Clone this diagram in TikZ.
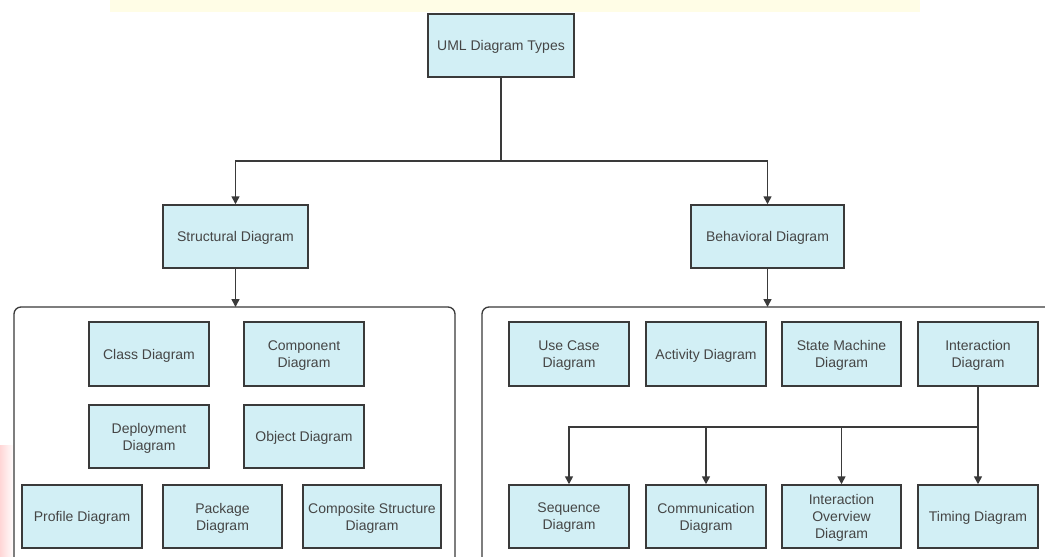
\documentclass[tikz,border=0pt]{standalone}
\usepackage{fontspec}
\setmainfont{Liberation Sans}
\usetikzlibrary{arrows.meta}
\definecolor{boxfill}{HTML}{D2EFF5}
\definecolor{boxline}{HTML}{3A3A3A}
\definecolor{boxtext}{HTML}{454545}
\tikzset{
  umlbox/.style={draw=boxline, line width=1.5pt, fill=boxfill, text=boxtext,
    align=center, inner sep=0pt, font=\fontsize{14}{17}\selectfont},
  group/.style={draw=boxline, line width=1.3pt, rounded corners=7pt},
  link/.style={draw=boxline, line width=1.6pt},
  arrowlink/.style={link, -{Triangle[length=8pt,width=8pt]}},
}
% place a box by its pixel corners: #1 name, #2 x0, #3 y0, #4 x1, #5 y1, #6 text
\newcommand{\umlnode}[6]{%
  \node[umlbox, minimum width={#4-#2}, minimum height={#5-#3}, text depth=-1pt]
    (#1) at ({(#2+#4)/2},{(#3+#5)/2}) {#6};}
\begin{document}
\begin{tikzpicture}[x=1pt,y=-1pt]
\useasboundingbox (0,0) rectangle (1045,557);
\fill[white] (0,0) rectangle (1045,557);
% soft tinted background marks
\fill[yellow!12, opacity=0.8] (110,0) rectangle (920,12);
\shade[left color=red!16, right color=white] (0,445) rectangle (14,557);

% top level
\umlnode{root}{428}{14}{574}{77}{UML Diagram Types}
\umlnode{struct}{163}{205}{308}{268}{Structural Diagram}
\umlnode{behav}{691}{205}{844}{268}{Behavioral Diagram}

\coordinate (split) at (501,161);
\draw[link] (root.south) -- (split);
\draw[arrowlink] (split) -| (struct.north);
\draw[arrowlink] (split) -| (behav.north);

% group frames
\draw[group] (14,575) -- (14,307) -- (455,307) -- (455,575);
\draw[group] (482,575) -- (482,307) -- (1060,307);
\coordinate (sgroup) at (235.5,307);
\coordinate (bgroup) at (767.5,307);
\draw[arrowlink] (struct.south) -- (sgroup);
\draw[arrowlink] (behav.south) -- (bgroup);

% structural diagrams
\umlnode{class}{89}{322}{209}{386}{Class Diagram}
\umlnode{component}{244}{322}{364}{386}{Component\\Diagram}
\umlnode{deploy}{89}{405}{209}{468}{Deployment\\Diagram}
\umlnode{object}{244}{405}{364}{468}{Object Diagram}
\umlnode{profile}{22}{485}{142}{548}{Profile Diagram}
\umlnode{package}{163}{485}{282}{548}{Package\\Diagram}
\umlnode{composite}{303}{485}{441}{548}{Composite Structure\\Diagram}

% behavioral diagrams
\umlnode{usecase}{509}{322}{629}{386}{Use Case\\Diagram}
\umlnode{activity}{646}{322}{766}{386}{Activity Diagram}
\umlnode{state}{782}{322}{901}{386}{State Machine\\Diagram}
\umlnode{interaction}{918}{322}{1038}{386}{Interaction\\Diagram}
\umlnode{sequence}{509}{485}{629}{548}{Sequence\\Diagram}
\umlnode{communication}{646}{485}{766}{548}{Communication\\Diagram}
\umlnode{overview}{782}{485}{901}{548}{Interaction\\Overview\\Diagram}
\umlnode{timing}{918}{485}{1038}{548}{Timing Diagram}

% interaction diagram branches
\coordinate (ibranch) at (978,427);
\draw[link, line width=2.2pt] (interaction.south) -- (ibranch);
\draw[arrowlink] (ibranch) -| (sequence.north);
\draw[arrowlink] (ibranch) -| (communication.north);
\draw[arrowlink] (ibranch) -| (overview.north);
\draw[arrowlink] (ibranch) -- (timing.north);
\end{tikzpicture}
\end{document}
